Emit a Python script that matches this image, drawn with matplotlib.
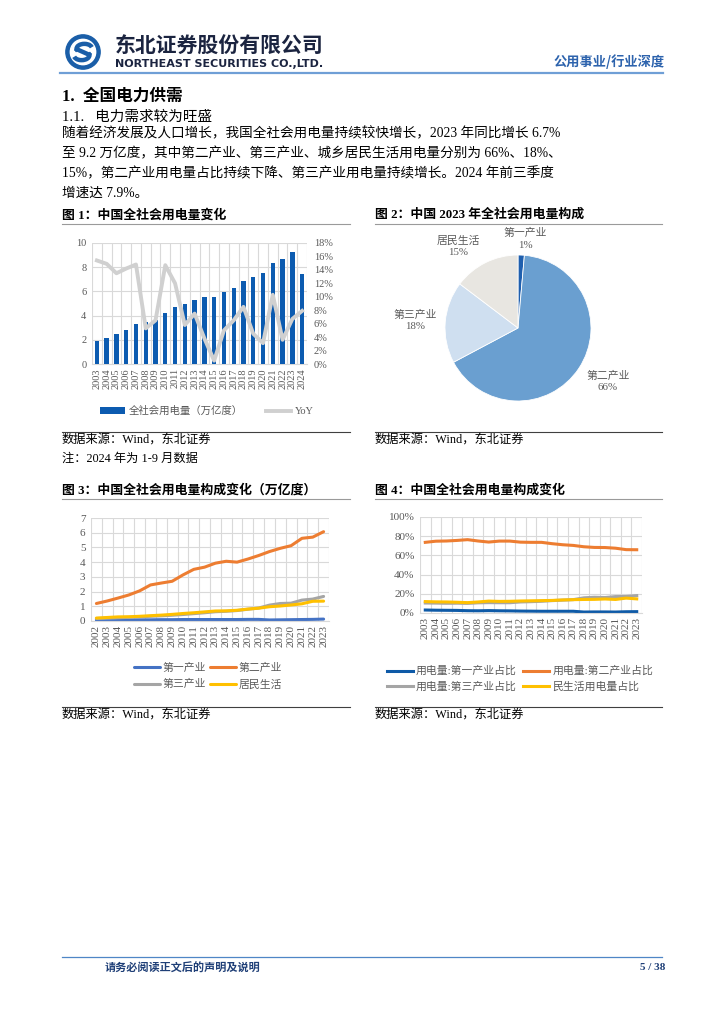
import numpy as np
import matplotlib
matplotlib.use("Agg")
import matplotlib.pyplot as plt
from matplotlib.patches import Circle, Arc
from matplotlib.lines import Line2D
from matplotlib.ticker import FuncFormatter

plt.rcParams['font.family'] = ['Liberation Serif', 'Noto Sans CJK SC']
CJK = ['Noto Sans CJK SC', 'DejaVu Sans']

W, H = 724, 1024

# ---- data ----
years1 = [str(y) for y in range(2003, 2025)]
power = [1.89, 2.18, 2.49, 2.85, 3.27, 3.43, 3.66, 4.19, 4.70, 4.96, 5.32,
         5.52, 5.55, 5.92, 6.31, 6.84, 7.23, 7.51, 8.31, 8.64, 9.22, 7.41]
yoy = [15.4, 14.9, 13.5, 14.2, 14.8, 5.3, 6.5, 14.7, 12.0, 5.8, 7.5,
       3.8, 0.5, 5.0, 6.5, 8.5, 4.5, 3.1, 10.3, 3.6, 6.7, 7.9]

pie_labels = ['第一产业', '第二产业', '第三产业', '居民生活']
pie_vals = [1.4, 65.9, 18.1, 14.7]
pie_text = ['1%', '66%', '18%', '15%']

years3 = [str(y) for y in range(2002, 2024)]
ind1 = [0.06, 0.06, 0.06, 0.07, 0.08, 0.08, 0.09, 0.09, 0.10, 0.10, 0.10,
        0.10, 0.10, 0.10, 0.11, 0.11, 0.07, 0.08, 0.09, 0.10, 0.11, 0.13]
ind2 = [1.19, 1.36, 1.56, 1.77, 2.05, 2.45, 2.58, 2.70, 3.13, 3.51, 3.66,
        3.93, 4.06, 4.00, 4.21, 4.45, 4.72, 4.94, 5.12, 5.62, 5.70, 6.07]
ind3 = [0.17, 0.19, 0.22, 0.25, 0.28, 0.32, 0.35, 0.39, 0.44, 0.50, 0.56,
        0.63, 0.66, 0.71, 0.80, 0.88, 1.08, 1.19, 1.21, 1.42, 1.49, 1.67]
resid = [0.20, 0.24, 0.28, 0.29, 0.32, 0.36, 0.40, 0.45, 0.51, 0.56, 0.62,
         0.68, 0.69, 0.73, 0.81, 0.87, 0.97, 1.02, 1.09, 1.17, 1.34, 1.35]
names3 = ['第一产业', '第二产业', '第三产业', '居民生活']

years4 = [str(y) for y in range(2003, 2024)]
sh1 = [3.1, 2.9, 2.8, 2.7, 2.4, 2.3, 2.5, 2.3, 2.2, 2.0, 1.9,
       1.8, 1.8, 1.8, 1.8, 1.0, 1.1, 1.1, 1.0, 1.3, 1.4]
sh2 = [73.6, 74.8, 75.0, 75.6, 76.4, 75.0, 73.9, 74.9, 74.9, 73.8, 73.6,
       73.6, 72.2, 71.1, 70.4, 69.0, 68.3, 68.2, 67.5, 66.0, 65.9]
sh3 = [10.4, 10.3, 10.1, 10.2, 10.0, 10.6, 10.8, 10.7, 10.7, 11.5, 11.8,
       12.2, 12.9, 13.4, 13.9, 15.8, 16.4, 16.1, 17.1, 17.2, 18.1]
sh4 = [11.9, 11.6, 11.5, 11.2, 10.8, 11.5, 12.4, 12.1, 12.2, 12.5, 12.7,
       12.9, 13.1, 13.6, 13.9, 14.1, 14.2, 14.6, 14.1, 15.5, 14.7]
names4 = ['用电量:第一产业占比', '用电量:第二产业占比', '用电量:第三产业占比', '民生活用电量占比']

para = ['随着经济发展及人口增长，我国全社会用电量持续较快增长，2023 年同比增长 6.7%',
        '至 9.2 万亿度，其中第二产业、第三产业、城乡居民生活用电量分别为 66%、18%、',
        '15%，第二产业用电量占比持续下降、第三产业用电量持续增长。2024 年前三季度',
        '增速达 7.9%。']

GRID = '#d9d9d9'
TICK = '#595959'

fig = plt.figure(figsize=(W / 100, H / 100), dpi=100)


def px_axes(l, t, r, b):
    return fig.add_axes([l / W, 1 - b / H, (r - l) / W, (b - t) / H])


def txt(x, y, s, **kw):
    kw.setdefault('va', 'center')
    fig.text(x / W, 1 - y / H, s, **kw)


def hline(x0, x1, y, color, lw):
    fig.add_artist(Line2D([x0 / W, x1 / W], [1 - y / H, 1 - y / H], color=color, lw=lw))


def style_cat(ax, n, xsize):
    ax.set_xlim(-0.5, n - 0.5)
    ax.set_xticks(np.arange(-0.5, n, 1), minor=True)
    ax.grid(axis='y', color=GRID, lw=0.8, zorder=0)
    ax.grid(axis='x', which='minor', color=GRID, lw=0.8, zorder=0)
    ax.set_axisbelow(True)
    ax.tick_params(which='both', length=0, labelsize=7.5, labelcolor=TICK)
    ax.tick_params(axis='x', labelsize=xsize, pad=3)
    for s in ax.spines.values():
        s.set_visible(False)
    ax.spines['bottom'].set_visible(True)
    ax.spines['bottom'].set_color(GRID)


# ---- header ----
lg = px_axes(64, 34, 102, 70)
lg.set_xlim(-1.05, 1.05)
lg.set_ylim(-1.05, 1.05)
lg.set_aspect('equal')
lg.axis('off')
lg.add_patch(Circle((0, 0), 1.0, color='#1a5ea8'))
lg.add_patch(Circle((0, 0), 0.74, color='white'))
lg.add_patch(Arc((0.08, 0.2), 0.9, 0.55, theta1=10, theta2=200, color='#1a5ea8', lw=3.2))
lg.add_patch(Arc((-0.08, -0.2), 0.9, 0.55, theta1=190, theta2=380, color='#1a5ea8', lw=3.2))
lg.plot([-0.36, 0.36], [0.16, -0.16], color='#1a5ea8', lw=3.2)

txt(115, 46, '东北证券股份有限公司', fontsize=15, fontweight='bold', color='#1b2440', family=CJK)
txt(115, 64, 'NORTHEAST SECURITIES CO.,LTD.', fontsize=8, fontweight='bold', color='#1b2440',
    family='DejaVu Sans')
txt(665, 62, '公用事业/行业深度', fontsize=9.5, fontweight='bold', color='#2d63ad', ha='right',
    family=CJK)
hline(60, 663, 73, '#6f9fd6', 1.6)

# ---- section text ----
txt(62, 97, '1.  全国电力供需', fontsize=12, fontweight='bold', color='black')
txt(62, 117, '1.1.   电力需求较为旺盛', fontsize=10.5, color='black')
for i, line in enumerate(para):
    txt(62, 134 + i * 19.6, line, fontsize=9.8, color='black')

# ---- figure titles & notes ----
txt(62, 215, '图 1：中国全社会用电量变化', fontsize=9.3, fontweight='bold')
txt(375, 215, '图 2：中国 2023 年全社会用电量构成', fontsize=9.3, fontweight='bold')
hline(62, 350, 224, '#9a9a9a', 0.8)
hline(375, 662, 224, '#9a9a9a', 0.8)
hline(62, 350, 432, '#404040', 0.8)
hline(375, 662, 432, '#404040', 0.8)
txt(62, 441, '数据来源：Wind，东北证券', fontsize=8.8)
txt(62, 459, '注：2024 年为 1-9 月数据', fontsize=8.8)
txt(375, 441, '数据来源：Wind，东北证券', fontsize=8.8)

txt(62, 490, '图 3：中国全社会用电量构成变化（万亿度）', fontsize=9.3, fontweight='bold')
txt(375, 490, '图 4：中国全社会用电量构成变化', fontsize=9.3, fontweight='bold')
hline(62, 350, 499, '#9a9a9a', 0.8)
hline(375, 662, 499, '#9a9a9a', 0.8)
hline(62, 350, 707, '#404040', 0.8)
hline(375, 662, 707, '#404040', 0.8)
txt(62, 716, '数据来源：Wind，东北证券', fontsize=8.8)
txt(375, 716, '数据来源：Wind，东北证券', fontsize=8.8)

# ---- chart 1 ----
ax1 = px_axes(92, 243, 307, 364)
x1 = np.arange(len(years1))
b1 = ax1.bar(x1, power, width=0.45, color='#0c5bb0', zorder=3, label='全社会用电量（万亿度）')
ax1.set_ylim(0, 10)
ax1.set_yticks(range(0, 11, 2))
ax1.set_xticks(x1)
ax1.set_xticklabels(years1, rotation=90)
style_cat(ax1, len(years1), 7.5)
ax1.tick_params(axis='y', pad=4)
ax1b = ax1.twinx()
l1, = ax1b.plot(x1, yoy, color='#d0d0d0', lw=2.8, label='YoY')
ax1b.set_ylim(0, 18)
ax1b.set_yticks(range(0, 19, 2))
ax1b.yaxis.set_major_formatter(FuncFormatter(lambda v, p: f'{v:.0f}%'))
ax1b.tick_params(length=0, labelsize=7.5, labelcolor=TICK, pad=5)
for s in ax1b.spines.values():
    s.set_visible(False)
fig.legend([b1, l1], ['全社会用电量（万亿度）', 'YoY'], loc='center',
           bbox_to_anchor=(207 / W, 1 - 411 / H), ncol=2, frameon=False,
           fontsize=7.5, labelcolor=TICK, handlelength=2.4, handleheight=0.55,
           columnspacing=2.2, handletextpad=0.4)

# ---- chart 2 ----
ax2 = px_axes(445, 255, 591, 401)
wedges, _ = ax2.pie(pie_vals, colors=['#1f5fae', '#6a9fd0', '#cfdff0', '#e8e6e1'],
                    startangle=90, counterclock=False, radius=1,
                    wedgeprops=dict(edgecolor='white', linewidth=0.6))
ax2.set_xlim(-1, 1)
ax2.set_ylim(-1, 1)
ax2.set_aspect('equal')
label_xy = [(0.10, 1.22), (1.23, -0.73), (-1.41, 0.10), (-0.82, 1.12)]
for (lx, ly), nm, pt in zip(label_xy, pie_labels, pie_text):
    ax2.text(lx, ly, nm + '\n' + pt, ha='center', va='center', fontsize=7.8,
             color=TICK, linespacing=1.35)

# ---- chart 3 ----
ax3 = px_axes(91, 518, 329, 621)
x3 = np.arange(len(years3))
c3 = ['#4472c4', '#ed7d31', '#a5a5a5', '#ffc000']
h3 = []
for ser, col, nm in zip([ind1, ind2, ind3, resid], c3, names3):
    h, = ax3.plot(x3, ser, color=col, lw=2.2, label=nm, solid_capstyle='round')
    h3.append(h)
ax3.set_ylim(0, 7)
ax3.set_yticks(range(0, 8))
ax3.set_xticks(x3)
ax3.set_xticklabels(years3, rotation=90)
style_cat(ax3, len(years3), 8)
ax3.tick_params(axis='y', labelsize=8, pad=4)
fig.legend([h3[0], h3[2], h3[1], h3[3]], [names3[0], names3[2], names3[1], names3[3]],
           loc='center', bbox_to_anchor=(208 / W, 1 - 676 / H), ncol=2, frameon=False,
           fontsize=7.8, labelcolor=TICK, handlelength=2.4, columnspacing=0.3,
           handletextpad=0.3, labelspacing=0.6)

# ---- chart 4 ----
ax4 = px_axes(420, 517, 642, 613)
x4 = np.arange(len(years4))
c4 = ['#0e5aa7', '#ed7d31', '#a5a5a5', '#ffc000']
h4 = []
for ser, col, nm in zip([sh1, sh2, sh3, sh4], c4, names4):
    h, = ax4.plot(x4, ser, color=col, lw=2.2, label=nm)
    h4.append(h)
ax4.set_ylim(0, 100)
ax4.set_yticks(range(0, 101, 20))
ax4.yaxis.set_major_formatter(FuncFormatter(lambda v, p: f'{v:.0f}%'))
ax4.set_xticks(x4)
ax4.set_xticklabels(years4, rotation=90)
style_cat(ax4, len(years4), 8)
ax4.tick_params(axis='y', labelsize=8, pad=4)
fig.legend([h4[0], h4[2], h4[1], h4[3]], [names4[0], names4[2], names4[1], names4[3]],
           loc='center', bbox_to_anchor=(520 / W, 1 - 679 / H), ncol=2, frameon=False,
           fontsize=7.8, labelcolor=TICK, handlelength=2.4, columnspacing=0.6,
           handletextpad=0.3, labelspacing=0.5)

# ---- footer ----
hline(62, 662, 957, '#4f86c6', 0.9)
txt(105, 968, '请务必阅读正文后的声明及说明', fontsize=8, fontweight='bold', color='#1f3f77',
    family=CJK)
txt(665, 968, '5 / 38', fontsize=8, fontweight='bold', color='#1f3f77', ha='right')

fig.savefig('out.png', dpi=100)
